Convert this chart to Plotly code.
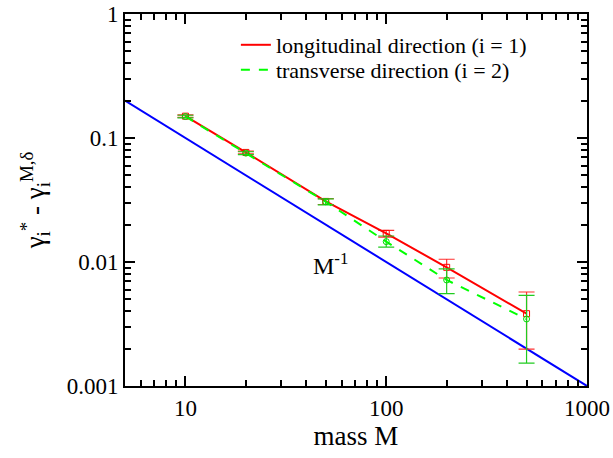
import plotly.graph_objects as go

mass = [10, 20, 50, 100, 200, 500]
long_vals = [0.150, 0.0765, 0.0308, 0.0170, 0.00906, 0.00383]
long_err_up = [0.0035, 0.0020, 0.0017, 0.0010, 0.00146, 0.00190]
long_err_dn = [0.0035, 0.0020, 0.0017, 0.0011, 0.00163, 0.00185]
trans_vals = [0.149, 0.0755, 0.0306, 0.0146, 0.00716, 0.00347]
trans_err_up = [0.0035, 0.0020, 0.0017, 0.0016, 0.00163, 0.00191]
trans_err_dn = [0.0035, 0.0020, 0.0017, 0.0014, 0.00160, 0.00194]
ref_mass = [5, 1000]
ref_vals = [1 / m for m in ref_mass]
x_ticks = [10, 100, 1000]
x_ticktext = ["10", "100", "1000"]
y_ticks = [0.001, 0.01, 0.1, 1]
y_ticktext = ["0.001", "0.01", "0.1", "1"]

FONT = "Liberation Serif"

x_minor = [m * 10 ** e for e in range(0, 3) for m in range(2, 10) if 5 <= m * 10 ** e <= 1000]
y_minor = [m * 10.0 ** e for e in range(-3, 0) for m in range(2, 10)]

fig = go.Figure()
fig.add_trace(go.Scatter(
    x=ref_mass, y=ref_vals, mode="lines", line=dict(color="#0000ff", width=2),
    showlegend=False))
fig.add_trace(go.Scatter(
    x=mass, y=long_vals, mode="lines+markers", showlegend=False,
    line=dict(color="#ff0000", width=2),
    marker=dict(symbol="square-open", size=6, color="#ff0000", line=dict(width=1)),
    error_y=dict(type="data", array=long_err_up, arrayminus=long_err_dn,
                 color="#ff3030", thickness=1.2, width=8)))
fig.add_trace(go.Scatter(
    x=mass, y=trans_vals, mode="lines+markers", showlegend=False,
    line=dict(color="#00ff00", width=2, dash="dash"),
    marker=dict(symbol="circle-open", size=6, color="#00dd00", line=dict(width=1)),
    error_y=dict(type="data", array=trans_err_up, arrayminus=trans_err_dn,
                 color="#20cc20", thickness=1.2, width=8)))
fig.add_trace(go.Scatter(
    x=[None], y=[None], mode="lines", name="longitudinal direction (i = 1)",
    line=dict(color="#ff0000", width=2), legend="legend"))
fig.add_trace(go.Scatter(
    x=[None], y=[None], mode="lines", name="transverse direction (i = 2)",
    line=dict(color="#00ff00", width=2, dash="dash"), legend="legend2"))

fig.add_annotation(x=1.72, y=-2.02, xref="x", yref="y", text="M<sup>-1</sup>",
                   showarrow=False, font=dict(family=FONT, size=24, color="black"))

axis_common = dict(
    type="log", showline=True, linecolor="black", linewidth=2, mirror="ticks",
    ticks="inside", ticklen=10, tickwidth=2, tickcolor="black",
    showgrid=False, zeroline=False, automargin=False,
    tickfont=dict(family=FONT, size=23, color="black"),
)

fig.update_xaxes(**axis_common, range=[0.69897, 3],
                 tickvals=x_ticks, ticktext=x_ticktext,
                 minor=dict(tickvals=x_minor, ticks="inside", ticklen=6, tickwidth=1.5,
                            tickcolor="black", showgrid=False),
                 title=dict(text="mass M", font=dict(family=FONT, size=27, color="black"), standoff=6))
fig.update_yaxes(**axis_common, range=[-3, 0],
                 tickvals=y_ticks, ticktext=y_ticktext,
                 minor=dict(tickvals=y_minor, ticks="inside", ticklen=6, tickwidth=1.5,
                            tickcolor="black", showgrid=False),
                 title=dict(text="γ<sub>i</sub><sup>*</sup> - γ<sub>i</sub><sup>M,δ</sup>",
                            font=dict(family=FONT, size=27, color="black"), standoff=14))

legend_common = dict(xanchor="left", yanchor="middle", bgcolor="rgba(0,0,0,0)",
                     font=dict(family=FONT, size=22, color="black"))
fig.update_layout(
    width=613, height=458,
    margin=dict(l=125, r=26, t=14, b=72, autoexpand=False),
    paper_bgcolor="white", plot_bgcolor="white",
    legend=dict(x=0.24, y=(386 - 45) / 372, **legend_common),
    legend2=dict(x=0.24, y=(386 - 70) / 372, **legend_common),
)

fig.write_html("out.html")
